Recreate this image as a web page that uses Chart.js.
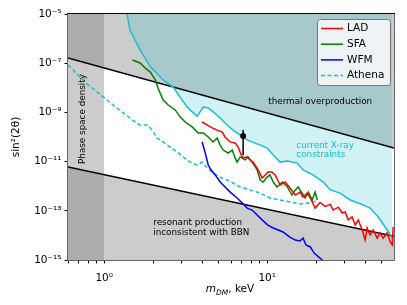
<!DOCTYPE html>
<html>
<head>
<meta charset="utf-8">
<script src="https://cdn.jsdelivr.net/npm/chart.js@4.4.0/dist/chart.umd.min.js"></script>
<style>
  html, body { margin: 0; padding: 0; background: #fff; }
</style>
</head>
<body>
<canvas id="chart" width="407" height="305"></canvas>
<script>
// valores: masa en keV, sin^2(2θ)
const ladMass = [3.99, 4.28, 4.6, 4.93, 5.3, 5.52, 5.93, 6.36, 6.64, 6.9, 7.12, 7.54, 7.86, 8.2, 8.81, 9.31, 9.72, 10.1, 10.7, 11.2, 12.0, 12.9, 13.8, 14.9, 15.9, 16.6, 17.6, 18.4, 19.7, 21.1, 22.7, 24.4, 25.4, 27.3, 28.9, 30.1, 31.4, 33.2, 34.7, 36.2, 38.3, 39.9, 41.0, 42.8, 44.7, 47.3, 49.3, 51.5, 54.5, 56.9, 58.5, 59.3]
const ladMix = [4.07e-10, 3.09e-10, 2.34e-10, 1.91e-10, 1.58e-10, 1.0e-10, 6.31e-11, 5.75e-11, 3.89e-11, 2.0e-11, 1.41e-11, 1.55e-11, 1.17e-11, 9.55e-12, 4.57e-12, 2.14e-12, 2.88e-12, 3.8e-12, 3.8e-12, 2.88e-12, 1.12e-12, 1.48e-12, 8.51e-13, 4.37e-13, 5.75e-13, 3.63e-13, 5.25e-13, 3.31e-13, 1.29e-13, 2.19e-13, 1.51e-13, 1.82e-13, 1.07e-13, 1.41e-13, 8.13e-14, 8.91e-14, 4.27e-14, 5.62e-14, 2.63e-14, 4.27e-14, 1.66e-14, 6.46e-15, 2.0e-14, 1.05e-14, 1.66e-14, 7.76e-15, 1.26e-14, 7.76e-15, 1.26e-14, 5.37e-15, 4.07e-15, 2.19e-14]

const sfaMass = [1.49, 1.66, 1.79, 1.92, 2.06, 2.14, 2.3, 2.47, 2.73, 2.93, 3.14, 3.47, 3.77, 4.05, 4.35, 4.66, 4.93, 5.15, 5.37, 5.76, 6.1, 6.36, 6.54, 6.83, 7.33, 7.64, 8.09, 8.68, 9.06, 9.45, 10.0, 10.4, 10.9, 11.5, 12.4, 13.3, 14.2, 14.9, 15.5, 16.4, 17.1, 17.9, 18.9, 19.7, 20.3]
const sfaMix = [1.35e-7, 1.02e-7, 6.31e-8, 4.37e-8, 2.09e-8, 9.77e-9, 3.16e-9, 2.0e-9, 1.26e-9, 6.46e-10, 4.07e-10, 2.57e-10, 1.45e-10, 1.45e-10, 1.0e-10, 6.31e-11, 9.12e-11, 4.68e-11, 2.95e-11, 2.24e-11, 2.95e-11, 1.41e-11, 9.55e-12, 1.55e-11, 1.17e-11, 1.55e-11, 9.55e-12, 4.57e-12, 1.78e-12, 1.48e-12, 2.34e-12, 2.88e-12, 1.48e-12, 9.33e-13, 1.48e-12, 9.33e-13, 4.37e-13, 7.08e-13, 9.33e-13, 5.25e-13, 3.31e-13, 5.75e-13, 2.75e-13, 5.75e-13, 2.75e-13]

const wfmMass = [3.99, 4.17, 4.35, 4.53, 4.8, 5.15, 5.52, 5.93, 6.54, 7.03, 7.54, 8.09, 8.68, 9.31, 10.1, 10.9, 11.7, 12.5, 13.8, 14.9, 15.9, 16.6, 17.3, 18.4, 19.4, 21.1, 22.1]
const wfmMix = [6.31e-11, 2.24e-11, 7.24e-12, 4.57e-12, 2.88e-12, 1.48e-12, 9.33e-13, 5.75e-13, 3.31e-13, 2.09e-13, 1.29e-13, 1.07e-13, 6.76e-14, 4.27e-14, 2.63e-14, 2.0e-14, 1.66e-14, 1.38e-14, 8.51e-15, 6.46e-15, 5.89e-15, 7.76e-15, 4.07e-15, 3.39e-15, 1.91e-15, 1.2e-15, 9.12e-16]

const athenaMass = [0.601, 0.683, 0.787, 0.906, 0.986, 1.135, 1.29, 1.49, 1.66, 1.84, 1.97, 2.11, 2.3, 2.54, 2.8, 3.05, 3.37, 3.72, 3.99, 4.28, 4.66, 5.15, 5.68, 6.18, 6.83, 7.86, 9.06, 10.4, 12.0, 13.8, 15.9, 18.4, 20.0]
const athenaMix = [8.51e-8, 3.63e-8, 1.41e-8, 6.76e-9, 4.27e-9, 2.0e-9, 1.05e-9, 4.9e-10, 3.09e-10, 3.09e-10, 1.91e-10, 9.12e-11, 6.31e-11, 3.89e-11, 2.45e-11, 1.55e-11, 9.55e-12, 7.24e-12, 9.55e-12, 5.5e-12, 3.47e-12, 2.34e-12, 1.78e-12, 1.35e-12, 9.33e-13, 7.08e-13, 5.25e-13, 3.31e-13, 2.75e-13, 2.29e-13, 1.91e-13, 2.09e-13, 2.51e-13]

// limite actual de rayos X
const xrayMass = [1.38, 1.44, 1.66, 1.92, 2.3, 2.65, 3.01, 3.23, 3.52, 3.72, 3.88, 4.05, 4.35, 4.66, 5.15, 5.68, 6.18, 6.83, 7.54, 8.68, 10.0, 10.9, 12.0, 13.3, 15.3, 16.6, 19.1, 22.1, 24.4, 28.0, 32.3, 38.8, 42.8, 48.0, 54.5, 58.5]
const xrayMix = [1e-5, 2.24e-6, 3.47e-7, 7.08e-8, 2.09e-8, 1.07e-8, 3.16e-9, 1.66e-9, 9.55e-10, 7.08e-10, 1.05e-9, 1.66e-9, 1.51e-9, 1.05e-9, 5.89e-10, 3.09e-10, 1.91e-10, 1.2e-10, 7.59e-11, 5.25e-11, 3.55e-11, 1.86e-11, 9.55e-12, 1.05e-11, 8.71e-12, 4.57e-12, 2.88e-12, 1.48e-12, 7.08e-13, 5.25e-13, 2.75e-13, 1.74e-13, 1.29e-13, 5.62e-14, 1.66e-14, 7.76e-15]

// regiones excluidas
const thermalMass = [0.6, 60]
const thermalMix = [1.62e-7, 3.55e-11]
const bbnMass = [0.6, 60]
const bbnMix = [6.03e-12, 9.3e-15]
const phaseMass = [0.6, 1.0]
const phaseMix = [1e-5, 1e-5]

// punto con barra de error
const pointMass = [7.12]
const pointMix = [1.1e-10]
const pointLow = [1.86e-11]
const pointHigh = [1.91e-10]

// ejes
const xTicks = [0.6, 0.7, 0.8, 0.9, 1, 2, 3, 4, 5, 6, 7, 8, 9, 10, 20, 30, 40, 50]
const xMajor = [1, 10]
const xMajorLabels = ["10⁰", "10¹"]
const yTicks = [1e-15, 1e-13, 1e-11, 1e-9, 1e-7, 1e-5]
const yTickLabels = ["10⁻¹⁵", "10⁻¹³", "10⁻¹¹", "10⁻⁹", "10⁻⁷", "10⁻⁵"]

const notes = [
  { text: "thermal overproduction", x: 10.15, y: 2.63e-9, color: "#000" },
  { text: "current X-ray", x: 15.1, y: 4.27e-11, color: "#17becf" },
  { text: "constraints", x: 15.1, y: 1.86e-11, color: "#17becf" },
  { text: "resonant production", x: 2.0, y: 3.16e-14, color: "#000" },
  { text: "inconsistent with BBN", x: 2.0, y: 1.26e-14, color: "#000" },
  { text: "Phase space density", x: 0.743, y: 5.37e-10, color: "#000", rotate: true },
]

const zip = (xs, ys) => xs.map((v, i) => ({ x: v, y: ys[i] }))
const sameVal = (a, b) => Math.abs(Math.log10(a) - Math.log10(b)) < 1e-6

const FONT = "'DejaVu Sans', sans-serif"
Chart.defaults.font.family = FONT
Chart.defaults.color = "#000"

function curve(label, xs, ys, color, extra) {
  return Object.assign({
    label: label,
    data: zip(xs, ys),
    borderColor: color,
    backgroundColor: color,
    borderWidth: 1.5,
    pointRadius: 0,
    tension: 0,
    fill: false,
  }, extra || {})
}

const legendItems = [
  { label: "LAD", color: "#ff0000" },
  { label: "SFA", color: "#008000" },
  { label: "WFM", color: "#0000ff" },
  { label: "Athena", color: "#17becf", dash: [4, 2.5] },
]

// textos, marco, leyenda y titulo del eje x
const extras = {
  id: "extras",
  afterDatasetsDraw(chart) {
    const { ctx, chartArea: a, scales } = chart
    const sx = scales.x, sy = scales.y
    ctx.save()

    notes.forEach((n) => {
      ctx.save()
      ctx.font = "8.8px " + FONT
      ctx.fillStyle = n.color
      ctx.textBaseline = "middle"
      ctx.translate(sx.getPixelForValue(n.x), sy.getPixelForValue(n.y))
      if (n.rotate) {
        ctx.rotate(-Math.PI / 2)
        ctx.textAlign = "center"
      } else {
        ctx.textAlign = "left"
      }
      ctx.fillText(n.text, 0, 0)
      ctx.restore()
    })

    // marco
    ctx.lineWidth = 1
    ctx.strokeStyle = "#666"
    ctx.beginPath()
    ctx.moveTo(a.left - 0.5, a.top)
    ctx.lineTo(a.left - 0.5, a.bottom + 0.5)
    ctx.lineTo(a.right + 0.5, a.bottom + 0.5)
    ctx.lineTo(a.right + 0.5, a.top)
    ctx.stroke()
    ctx.strokeStyle = "#000"
    ctx.beginPath()
    ctx.moveTo(a.left - 1, a.top - 0.5)
    ctx.lineTo(a.right + 1, a.top - 0.5)
    ctx.stroke()

    // leyenda
    const lw = 73, lh = 66
    const lx = a.right - lw - 4, ly = a.top + 5
    ctx.beginPath()
    ctx.roundRect(lx + 0.5, ly + 0.5, lw, lh, 3)
    ctx.fillStyle = "rgba(255,255,255,0.8)"
    ctx.fill()
    ctx.strokeStyle = "#777"
    ctx.stroke()
    ctx.font = "10.5px " + FONT
    ctx.textAlign = "left"
    ctx.textBaseline = "middle"
    legendItems.forEach((it, i) => {
      const yy = ly + 9.5 + i * 15.7
      ctx.beginPath()
      ctx.setLineDash(it.dash || [])
      ctx.strokeStyle = it.color
      ctx.lineWidth = 1.5
      ctx.moveTo(lx + 4, yy)
      ctx.lineTo(lx + 26, yy)
      ctx.stroke()
      ctx.setLineDash([])
      ctx.fillStyle = "#000"
      ctx.fillText(it.label, lx + 30, yy)
    })

    // titulo eje x: m_DM, keV
    ctx.textBaseline = "alphabetic"
    ctx.font = "italic 10.5px " + FONT
    const w1 = ctx.measureText("m").width
    ctx.font = "italic 7.5px " + FONT
    const w2 = ctx.measureText("DM").width
    ctx.font = "10.5px " + FONT
    const w3 = ctx.measureText(", keV").width
    let tx = (a.left + a.right) / 2 - (w1 + w2 + w3) / 2 - 1
    const base = 292
    ctx.fillStyle = "#000"
    ctx.font = "italic 10.5px " + FONT
    ctx.fillText("m", tx, base)
    tx += w1
    ctx.font = "italic 7.5px " + FONT
    ctx.fillText("DM", tx, base + 2.5)
    tx += w2
    ctx.font = "10.5px " + FONT
    ctx.fillText(", keV", tx, base)

    ctx.restore()
  },
}

const grayFill = "rgba(128,128,128,0.4)"

new Chart(document.getElementById("chart"), {
  type: "line",
  data: {
    datasets: [
      curve("punto", pointMass, pointMix, "#000", { showLine: false, pointRadius: 3, pointBorderWidth: 0 }),
      curve("barra", [pointMass[0], pointMass[0]], [pointHigh[0], pointLow[0]], "#000"),
      curve("LAD", ladMass, ladMix, "#ff0000"),
      curve("SFA", sfaMass, sfaMix, "#008000"),
      curve("WFM", wfmMass, wfmMix, "#0000ff"),
      curve("Athena", athenaMass, athenaMix, "#17becf", { borderDash: [4, 2.5] }),
      curve("X-ray", xrayMass, xrayMix, "#17becf", { fill: "end", backgroundColor: "rgba(23,190,207,0.2)" }),
      curve("thermal", thermalMass, thermalMix, "#000", { fill: "end", backgroundColor: grayFill }),
      curve("BBN", bbnMass, bbnMix, "#000", { fill: "start", backgroundColor: grayFill }),
      curve("phase", phaseMass, phaseMix, "rgba(0,0,0,0)", { borderWidth: 0, fill: "start", backgroundColor: grayFill }),
    ],
  },
  options: {
    responsive: false,
    animation: false,
    devicePixelRatio: 1,
    layout: { padding: { left: 0, top: 14, right: 13, bottom: 0 } },
    plugins: {
      legend: { display: false },
      tooltip: { enabled: false },
      filler: { drawTime: "beforeDatasetsDraw" },
    },
    scales: {
      x: {
        type: "logarithmic",
        min: 0.6,
        max: 60,
        border: { display: false },
        grid: { drawOnChartArea: false, drawTicks: true, tickLength: 3.5, tickColor: "#000" },
        ticks: {
          autoSkip: false,
          maxRotation: 0,
          padding: 8,
          font: { size: 10.5 },
          callback: (v) => {
            const i = xMajor.findIndex((t) => sameVal(t, v))
            return i >= 0 ? xMajorLabels[i] : ""
          },
        },
        afterBuildTicks: (s) => { s.ticks = xTicks.map((v) => ({ value: v })) },
        afterFit: (s) => { s.height = 45 },
      },
      y: {
        type: "logarithmic",
        min: 1e-15,
        max: 1e-5,
        border: { display: false },
        grid: { drawOnChartArea: false, drawTicks: true, tickLength: 3.5, tickColor: "#000" },
        title: { display: true, text: "sin²(2θ)", font: { size: 10.5 }, padding: { top: 10, bottom: 0 } },
        ticks: {
          autoSkip: false,
          padding: 3,
          font: { size: 10.5 },
          callback: (v) => {
            const i = yTicks.findIndex((t) => sameVal(t, v))
            return i >= 0 ? yTickLabels[i] : ""
          },
        },
        afterBuildTicks: (s) => { s.ticks = yTicks.map((v) => ({ value: v })) },
        afterFit: (s) => { s.width = 68 },
      },
    },
  },
  plugins: [extras],
})
</script>
</body>
</html>
